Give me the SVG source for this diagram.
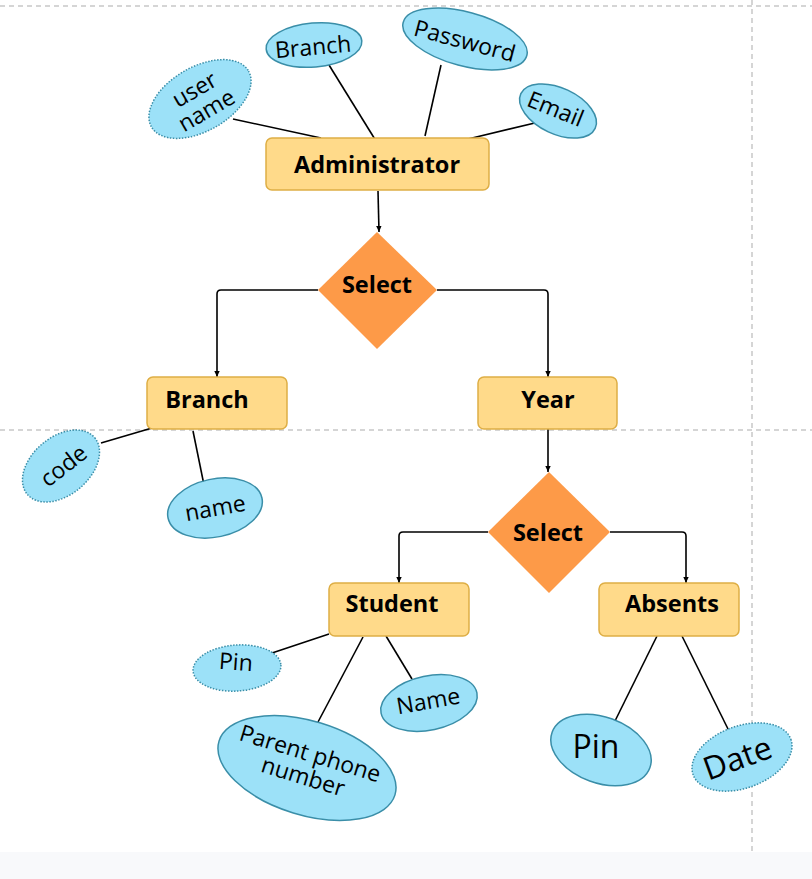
<svg xmlns="http://www.w3.org/2000/svg" width="812" height="879" viewBox="0 0 812 879">
<style>
.guide{stroke:#c8c8c8;stroke-width:1.5;stroke-dasharray:5,4;fill:none}
.ent{fill:#ffda8a;stroke:#deae45;stroke-width:1.5}
.rel{fill:#fd9a48}
.att{fill:#9ce1f8;stroke:#3a8ea8;stroke-width:1.5}
.attd{fill:#9ce1f8;stroke:#3a8ea8;stroke-width:1.5;stroke-dasharray:1.5,1.5}
.lbl{font-family:"Open Sans","Liberation Sans",sans-serif;font-weight:bold;font-size:23.5px;fill:#000;text-anchor:middle;dominant-baseline:central}
.atxt{font-family:"Open Sans","Liberation Sans",sans-serif;font-size:23px;fill:#000;text-anchor:middle;dominant-baseline:central}
.ln{stroke:#000;stroke-width:1.6;fill:none}
</style>
<defs>
<marker id="arr" viewBox="0 0 10 10" refX="9" refY="5" markerWidth="7" markerHeight="7" orient="auto" markerUnits="userSpaceOnUse">
<path d="M0,1 L9,5 L0,9 Z" fill="#000"/>
</marker>
</defs>
<rect x="0" y="0" width="812" height="879" fill="#fff"/>
<rect x="0" y="852" width="812" height="27" fill="#f8f9fb"/>
<g id="guides">
<line class="guide" x1="0" y1="6" x2="812" y2="6"/>
<line class="guide" x1="0" y1="430" x2="812" y2="430"/>
<line class="guide" x1="752" y1="0" x2="752" y2="852"/>
</g>
<g id="connectors">
<line class="ln" x1="233" y1="119" x2="321" y2="138"/>
<line class="ln" x1="329" y1="65" x2="376" y2="141"/>
<line class="ln" x1="441" y1="65" x2="425" y2="136"/>
<line class="ln" x1="539" y1="122" x2="468" y2="139"/>
<line class="ln" x1="378" y1="191" x2="379" y2="232" marker-end="url(#arr)"/>
<path class="ln" d="M318,290 H221 Q217,290 217,294 V377" marker-end="url(#arr)"/>
<path class="ln" d="M437,290 H544 Q548,290 548,294 V377" marker-end="url(#arr)"/>
<line class="ln" x1="101" y1="443" x2="152" y2="428"/>
<line class="ln" x1="193" y1="431" x2="204" y2="485"/>
<line class="ln" x1="548" y1="429" x2="548" y2="472" marker-end="url(#arr)"/>
<path class="ln" d="M488,532 H403 Q399,532 399,536 V583" marker-end="url(#arr)"/>
<path class="ln" d="M610,532 H682 Q686,532 686,536 V583" marker-end="url(#arr)"/>
<line class="ln" x1="269" y1="654" x2="329" y2="634"/>
<line class="ln" x1="386" y1="636" x2="412" y2="679"/>
<line class="ln" x1="363" y1="637" x2="318" y2="722"/>
<line class="ln" x1="657" y1="636" x2="614" y2="723"/>
<line class="ln" x1="682" y1="636" x2="730" y2="733"/>
</g>
<g id="administrator">
<rect class="ent" x="266" y="138" width="223" height="52" rx="6"/>
<text class="lbl" x="377" y="164">Administrator</text>
</g>
<g id="attr-username">
<ellipse class="attd" cx="200" cy="99" rx="56" ry="32" transform="rotate(-30 200 99)"/>
<text class="atxt" transform="rotate(-30 200 99)"><tspan x="200" y="87">user</tspan><tspan x="200" y="111">name</tspan></text>
</g>
<g id="attr-branch">
<ellipse class="att" cx="314" cy="45" rx="48" ry="22" transform="rotate(-5 314 45)"/>
<text class="atxt" x="313" y="46" transform="rotate(-5 313 46)">Branch</text>
</g>
<g id="attr-password">
<ellipse class="att" cx="465" cy="39" rx="64" ry="27" transform="rotate(15 465 39)"/>
<text class="atxt" x="465" y="40" transform="rotate(15 465 40)">Password</text>
</g>
<g id="attr-email">
<ellipse class="att" cx="558" cy="111" rx="41" ry="23" transform="rotate(25 558 111)"/>
<text class="atxt" x="556" y="108" transform="rotate(22 556 108)">Email</text>
</g>
<g id="select1">
<polygon class="rel" points="377,232 437,290 377,349 318,290"/>
<text class="lbl" x="377" y="284">Select</text>
</g>
<g id="branch">
<rect class="ent" x="147" y="377" width="140" height="52" rx="6"/>
<text class="lbl" x="207" y="399">Branch</text>
</g>
<g id="year">
<rect class="ent" x="478" y="377" width="139" height="52" rx="6"/>
<text class="lbl" x="548" y="399">Year</text>
</g>
<g id="attr-code">
<ellipse class="attd" cx="61" cy="466" rx="44" ry="29" transform="rotate(-40 61 466)"/>
<text class="atxt" x="63" y="465" transform="rotate(-38 63 465)">code</text>
</g>
<g id="attr-name">
<ellipse class="att" cx="215" cy="508" rx="48" ry="29" transform="rotate(-12 215 508)"/>
<text class="atxt" x="215" y="507" transform="rotate(-10 215 507)">name</text>
</g>
<g id="select2">
<polygon class="rel" points="549,472 610,532 549,593 488,532"/>
<text class="lbl" x="548" y="532">Select</text>
</g>
<g id="student">
<rect class="ent" x="329" y="583" width="140" height="53" rx="6"/>
<text class="lbl" x="392" y="603">Student</text>
</g>
<g id="absents">
<rect class="ent" x="599" y="583" width="140" height="53" rx="6"/>
<text class="lbl" x="672" y="603">Absents</text>
</g>
<g id="attr-pin-student">
<ellipse class="attd" cx="237" cy="668" rx="44" ry="23" transform="rotate(-4 237 668)"/>
<text class="atxt" x="236" y="661" transform="rotate(4 236 661)">Pin</text>
</g>
<g id="attr-name-student">
<ellipse class="att" cx="429" cy="703" rx="49" ry="27" transform="rotate(-12 429 703)"/>
<text class="atxt" x="428" y="700" transform="rotate(-10 428 700)">Name</text>
</g>
<g id="attr-parent-phone">
<ellipse class="att" cx="307" cy="768" rx="92" ry="47" transform="rotate(17 307 768)"/>
<text class="atxt" transform="rotate(17 307 764)"><tspan x="307" y="752">Parent phone</tspan><tspan x="307" y="776">number</tspan></text>
</g>
<g id="attr-pin-absents">
<ellipse class="att" cx="601" cy="750" rx="52" ry="33" transform="rotate(20 601 750)"/>
<text class="atxt" x="596" y="745" style="font-size:32px">Pin</text>
</g>
<g id="attr-date">
<ellipse class="attd" cx="742" cy="757" rx="52" ry="31" transform="rotate(-20 742 757)"/>
<text class="atxt" x="737" y="757" style="font-size:32px" transform="rotate(-20 737 757)">Date</text>
</g>
</svg>
